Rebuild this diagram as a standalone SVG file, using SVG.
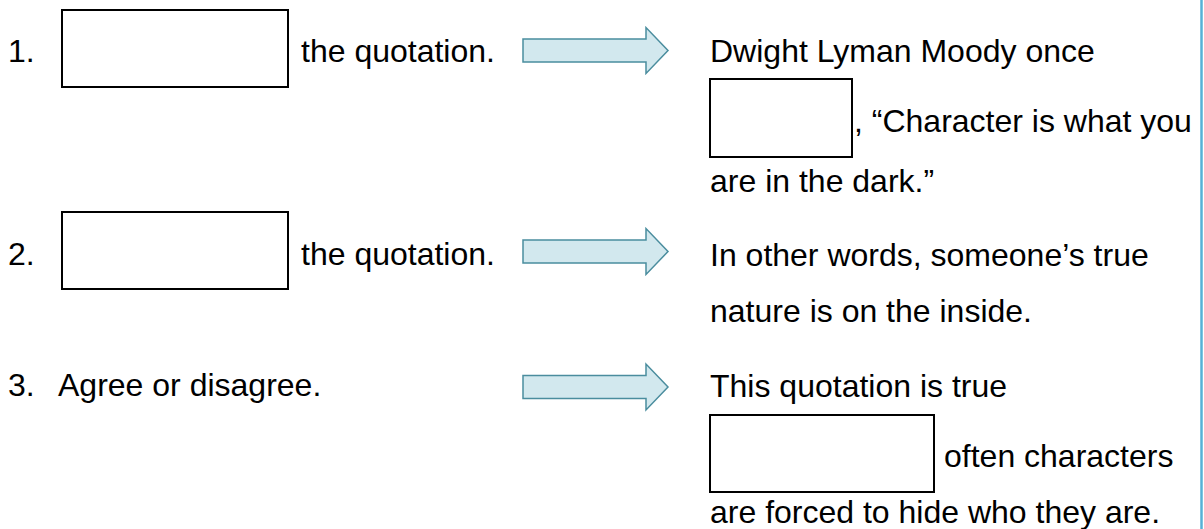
<svg xmlns="http://www.w3.org/2000/svg" width="1204" height="529" viewBox="0 0 1204 529">
  <style>
    .t { font-family: "Liberation Sans", Arial, sans-serif; font-size: 32px; fill: #000; }
    .blank { fill: #fff; stroke: #000; stroke-width: 2; }
    .arrow { fill: #d2e8ee; stroke: #4a8d9e; stroke-width: 1.5; stroke-linejoin: miter; }
  </style>
  <defs>
    <!-- block arrow, origin at the left end of the shaft centre line -->
    <path id="blockArrow" class="arrow" d="M0,-11.5 H123 V-23 L145,0 L123,23 V11.5 H0 Z"/>
  </defs>

  <rect x="0" y="0" width="1204" height="529" fill="#fff"/>
  <!-- slide edge -->
  <line x1="1201.5" y1="0" x2="1201.5" y2="529" stroke="#56b1d6" stroke-width="2.5"/>

  <!-- step 1 -->
  <g id="step1">
    <text class="t" x="8" y="62">1.</text>
    <rect class="blank" x="62" y="10" width="226" height="77"/>
    <text class="t" x="301" y="62">the quotation.</text>
  </g>

  <!-- step 2 -->
  <g id="step2">
    <text class="t" x="8" y="265">2.</text>
    <rect class="blank" x="62" y="212" width="226" height="77"/>
    <text class="t" x="301" y="265">the quotation.</text>
  </g>

  <!-- step 3 -->
  <g id="step3">
    <text class="t" x="8" y="396">3.</text>
    <text class="t" x="58" y="396">Agree or disagree.</text>
  </g>

  <!-- answer 1 -->
  <g id="answer1">
    <text class="t" x="710" y="62">Dwight Lyman Moody once</text>
    <rect class="blank" x="710" y="79" width="142" height="78"/>
    <text class="t" x="854" y="132">, “Character is what you</text>
    <text class="t" x="710" y="192">are in the dark.”</text>
  </g>

  <!-- answer 2 -->
  <g id="answer2">
    <text class="t" x="710" y="266">In other words, someone’s true</text>
    <text class="t" x="710" y="322">nature is on the inside.</text>
  </g>

  <!-- answer 3 -->
  <g id="answer3">
    <text class="t" x="710" y="397">This quotation is true</text>
    <rect class="blank" x="710" y="415" width="224" height="77"/>
    <text class="t" x="944" y="467">often characters</text>
    <text class="t" x="710" y="523">are forced to hide who they are.</text>
  </g>

  <!-- connectors -->
  <g id="connectors">
    <use href="#blockArrow" x="523" y="50.5"/>
    <use href="#blockArrow" x="523" y="251.5"/>
    <use href="#blockArrow" x="523" y="387"/>
  </g>
</svg>
